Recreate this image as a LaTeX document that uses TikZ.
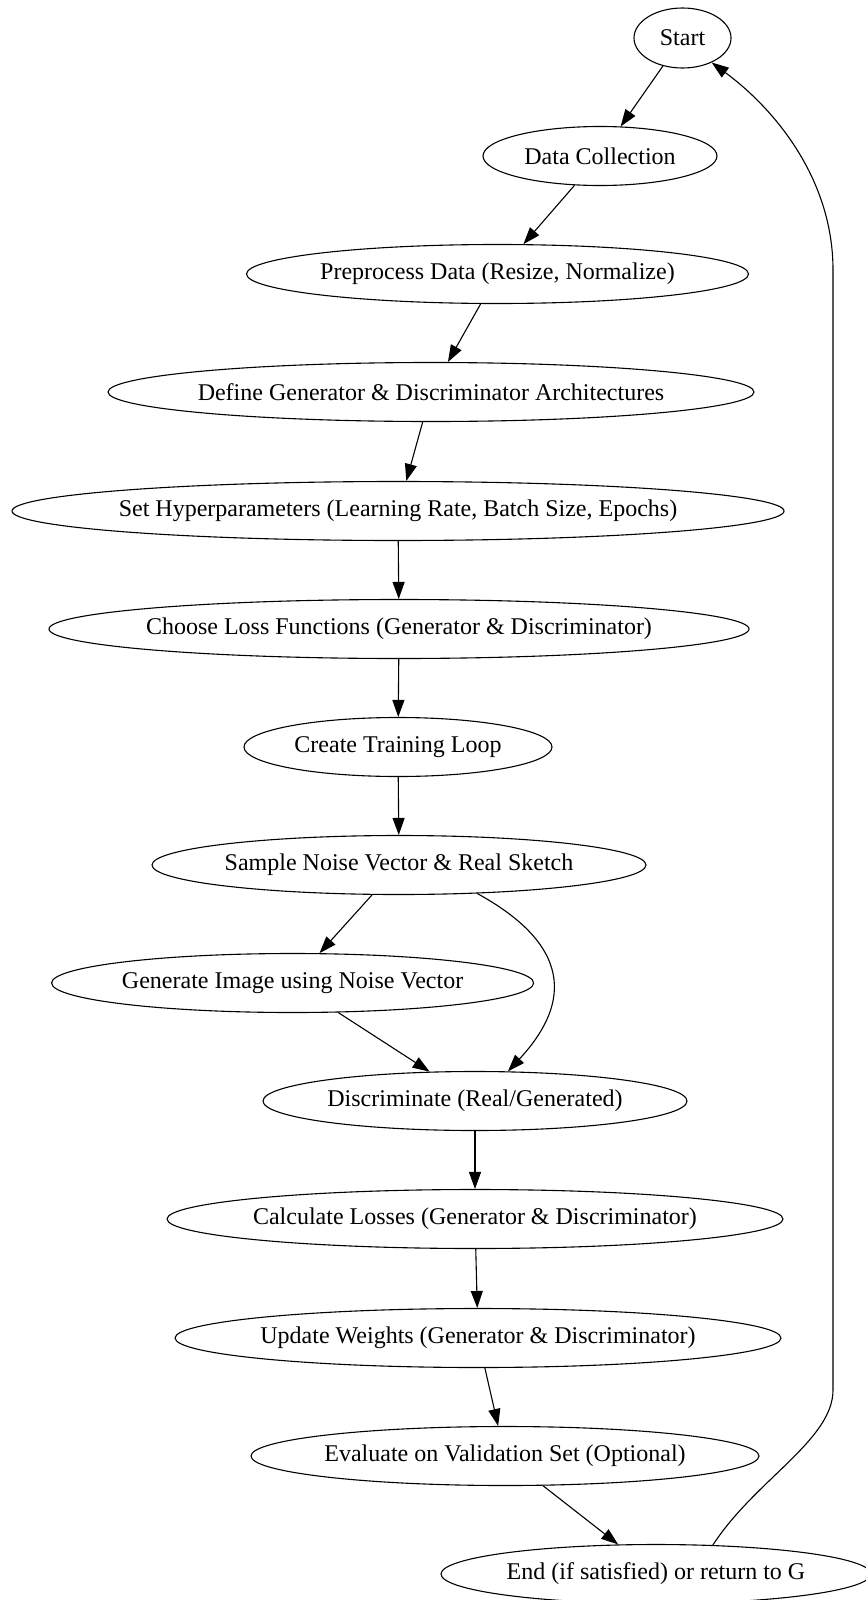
\documentclass[tikz,border=0pt]{standalone}
\usepackage{fontspec}
\setmainfont{Liberation Serif}
\usetikzlibrary{shapes.geometric,arrows.meta}
\begin{document}
\begin{tikzpicture}[x=1pt,y=-1pt,
  box/.style={draw, ellipse, line width=1.1pt, inner xsep=-60pt, inner ysep=-10pt, minimum height=59pt, font=\fontsize{24}{28}\selectfont},
  arr/.style={line width=1.1pt, -{Triangle[length=17pt,width=12pt]}}]
\useasboundingbox (0,0) rectangle (865,1600);
\fill[white] (0,0) rectangle (865,1600);
\node[box, minimum width=97pt, minimum height=60pt] (start) at (682.5,38) {Start};
\node[box, minimum width=234pt] (data) at (600,156) {Data Collection};
\node[box, minimum width=502pt] (pre) at (497.5,274) {Preprocess Data (Resize, Normalize)};
\node[box, minimum width=646pt] (def) at (431,392) {Define Generator \& Discriminator Architectures};
\node[box, minimum width=772pt] (hyp) at (398,511) {Set Hyperparameters (Learning Rate, Batch Size, Epochs)};
\node[box, minimum width=700pt] (loss) at (399,629) {Choose Loss Functions (Generator \& Discriminator)};
\node[box, minimum width=308pt] (loop) at (398,747) {Create Training Loop};
\node[box, minimum width=494pt] (samp) at (399,865) {Sample Noise Vector \& Real Sketch};
\node[box, minimum width=482pt] (gen) at (292.6,983) {Generate Image using Noise Vector};
\node[box, minimum width=424pt] (disc) at (475,1101) {Discriminate (Real/Generated)};
\node[box, minimum width=616pt] (calc) at (475,1219) {Calculate Losses (Generator \& Discriminator)};
\node[box, minimum width=606pt] (upd) at (478,1338) {Update Weights (Generator \& Discriminator)};
\node[box, minimum width=508pt] (eval) at (505,1456) {Evaluate on Validation Set (Optional)};
\node[box, minimum width=430pt] (end) at (656,1574) {End (if satisfied) or return to G};
\draw[arr] (start) -- (data);
\draw[arr] (data) -- (pre);
\draw[arr] (pre) -- (def);
\draw[arr] (def) -- (hyp);
\draw[arr] (hyp) -- (loss);
\draw[arr] (loss) -- (loop);
\draw[arr] (loop) -- (samp);
\draw[arr] (samp) -- (gen);
\draw[arr] (samp.-20) .. controls (580,950) and (565,1010) .. (disc.42);
\draw[arr] (gen) -- (disc);
\draw[arr] (disc) -- (calc);
\draw[arr] (calc) -- (upd);
\draw[arr] (upd) -- (eval);
\draw[arr] (eval) -- (end);
\draw[arr] (end.27) .. controls (755,1480) and (833,1440) .. (833,1390) -- (833,270) .. controls (833,180) and (776,110) .. (start.-40);
\end{tikzpicture}
\end{document}
